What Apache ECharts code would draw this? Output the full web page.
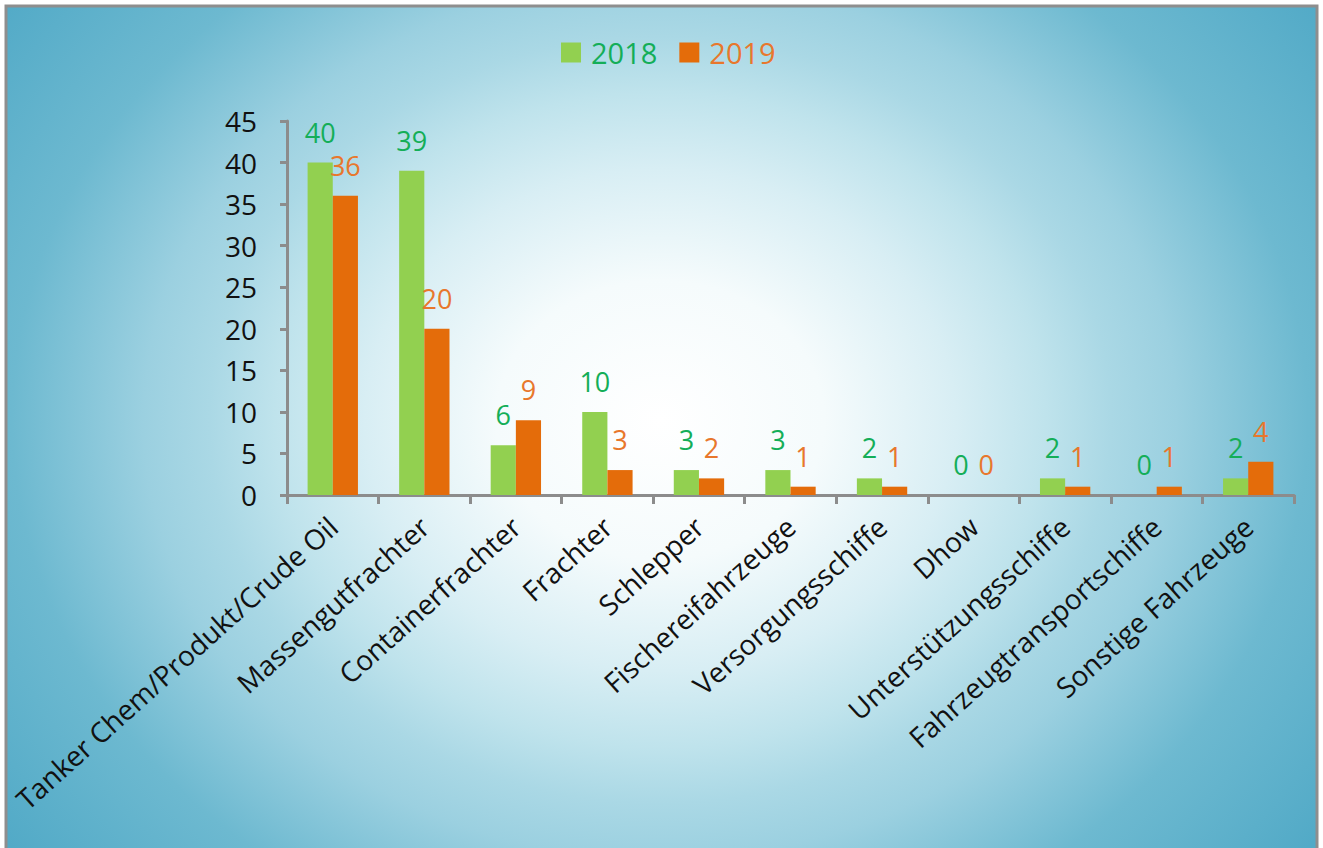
<!DOCTYPE html>
<html>
<head>
<meta charset="utf-8">
<title>Schiffstypen 2018 / 2019</title>
<script src="https://cdn.jsdelivr.net/npm/echarts@6/dist/echarts.min.js"></script>
<style>
  html, body { margin: 0; padding: 0; background: #ffffff; }
  #chart { width: 1323px; height: 848px; }
</style>
</head>
<body>
<div id="chart"></div>
<script>
// Ship categories and yearly counts
const categories = [
  'Tanker Chem/Produkt/Crude Oil',
  'Massengutfrachter',
  'Containerfrachter',
  'Frachter',
  'Schlepper',
  'Fischereifahrzeuge',
  'Versorgungsschiffe',
  'Dhow',
  'Unterstützungsschiffe',
  'Fahrzeugtransportschiffe',
  'Sonstige Fahrzeuge'
];
const values2018 = [40, 39, 6, 10, 3, 3, 2, 0, 2, 0, 2];
const values2019 = [36, 20, 9, 3, 2, 1, 1, 0, 1, 1, 4];
const seriesNames = ['2018', '2019'];

const FONT = 'Open Sans';
const GREEN_BAR = '#92D050';
const ORANGE_BAR = '#E46C0A';
const GREEN_TEXT = '#14AE58';
const ORANGE_TEXT = '#E8772C';
const AXIS_GREY = '#8C8C8C';

const chart = echarts.init(document.getElementById('chart'), null, { renderer: 'svg' });

// Frame with a soft radial fill, stretched a little wider than tall
const SY = 0.85;
const frameFill = {
  type: 'radial',
  x: 653, y: (420 - 7) / SY, r: 820,
  global: true,
  colorStops: [
    { offset: 0.00, color: '#FFFFFF' },
    { offset: 0.20, color: '#F5FBFC' },
    { offset: 0.36, color: '#D8EEF4' },
    { offset: 0.47, color: '#BFE3EC' },
    { offset: 0.55, color: '#AAD8E5' },
    { offset: 0.63, color: '#9BD0E0' },
    { offset: 0.79, color: '#6DB9D0' },
    { offset: 1.00, color: '#52AAC7' }
  ]
};

function labelFor(color) {
  return {
    show: true,
    position: 'top',
    distance: 17,
    color: color,
    fontFamily: FONT,
    fontSize: 27
  };
}

chart.setOption({
  backgroundColor: '#ffffff',
  animation: false,
  graphic: [
    {
      type: 'rect',
      z: -10,
      x: 7, y: 7,
      scaleY: SY,
      shape: { x: 0, y: 0, width: 1309, height: 860 / SY },
      style: { fill: frameFill }
    },
    {
      type: 'rect',
      z: -9,
      shape: { x: 6, y: 6, width: 1311, height: 870 },
      style: { fill: 'none', stroke: '#8E8E8E', lineWidth: 3 }
    }
  ],
  legend: {
    left: 556,
    top: 33,
    itemWidth: 20,
    itemHeight: 20,
    itemGap: 22,
    icon: 'rect',
    selectedMode: false,
    textStyle: { fontFamily: FONT, fontSize: 29, padding: [0, 0, 0, 5] },
    data: [
      { name: seriesNames[0], textStyle: { color: GREEN_TEXT } },
      { name: seriesNames[1], textStyle: { color: ORANGE_TEXT } }
    ]
  },
  grid: {
    left: 287,
    right: 29,
    top: 121,
    bottom: 353,
    outerBoundsMode: 'none',
    containLabel: false
  },
  xAxis: {
    type: 'category',
    data: categories,
    axisLine: { lineStyle: { color: AXIS_GREY, width: 3 } },
    axisTick: { show: true, length: 9, alignWithLabel: false, lineStyle: { color: AXIS_GREY, width: 3 } },
    axisLabel: {
      interval: 0,
      rotate: 42,
      margin: 27,
      color: '#111111',
      fontFamily: FONT,
      fontSize: 28
    },
    splitLine: { show: false }
  },
  yAxis: {
    type: 'value',
    min: 0,
    max: 45,
    interval: 5,
    axisLine: { show: true, lineStyle: { color: AXIS_GREY, width: 3 } },
    axisTick: { show: true, length: 7, lineStyle: { color: AXIS_GREY, width: 3 } },
    axisLabel: {
      margin: 30,
      color: '#111111',
      fontFamily: FONT,
      fontSize: 28
    },
    splitLine: { show: false }
  },
  series: [
    {
      name: seriesNames[0],
      type: 'bar',
      data: values2018,
      barGap: '0%',
      barCategoryGap: '45%',
      itemStyle: { color: GREEN_BAR },
      label: labelFor(GREEN_TEXT)
    },
    {
      name: seriesNames[1],
      type: 'bar',
      data: values2019,
      barGap: '0%',
      barCategoryGap: '45%',
      itemStyle: { color: ORANGE_BAR },
      label: labelFor(ORANGE_TEXT)
    }
  ]
});
</script>
</body>
</html>
